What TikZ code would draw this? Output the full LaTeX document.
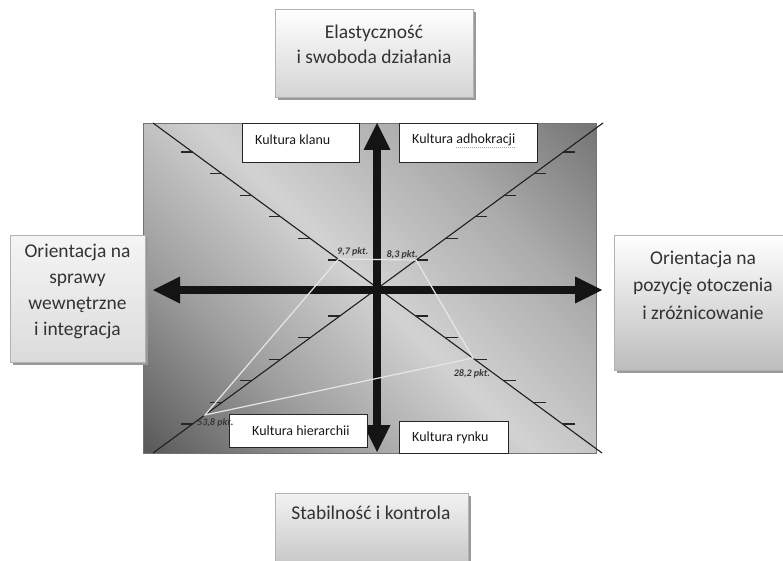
\documentclass[tikz,border=0pt]{standalone}
\usepackage{fontspec}
\setmainfont{Carlito}
\usetikzlibrary{arrows.meta,shadows}
\definecolor{txt}{HTML}{333333}
\definecolor{qlinec}{HTML}{E6E6E6}
\definecolor{sA}{HTML}{5A5A5A}
\definecolor{sB}{HTML}{9C9C9C}
\definecolor{sC}{HTML}{D2D2D2}
\definecolor{sD}{HTML}{ACACAC}
\definecolor{sE}{HTML}{727272}
\pgfdeclareverticalshading{panelshade}{100bp}{color(0bp)=(sA); color(15bp)=(sA); color(32bp)=(sB); color(50bp)=(sC); color(68bp)=(sD); color(86bp)=(sE); color(100bp)=(sE)}
\begin{document}
\begin{tikzpicture}[x=1pt,y=-1pt,
  bigarrow/.style={line width=8.3pt, draw=black!92,
    {Triangle[length=27pt,width=27pt,line width=0pt]}-{Triangle[length=27pt,width=27pt,line width=0pt]}},
  diag/.style={line width=1.1pt, draw=black!88},
  tickmark/.style={line width=1.3pt, draw=black!85},
  quadline/.style={line width=1.2pt, draw=qlinec},
  ptlabel/.style={font=\fontsize{10}{12}\selectfont\bfseries\itshape, text=black!78, inner sep=0pt},
  qbox/.style={draw=black!85, line width=0.9pt, fill=white, anchor=north west, inner sep=0pt},
  qtext/.style={font=\fontsize{14}{16}\selectfont, text=black!90, inner sep=0pt, anchor=west},
  obox/.style={draw=gray!60, line width=0.6pt, anchor=north west, inner sep=0pt,
    drop shadow={shadow xshift=2.5pt, shadow yshift=-2.5pt, fill=black!40, opacity=1}},
  otext/.style={align=center, font=\fontsize{19.5}{25}\selectfont, text=txt, inner sep=0pt}
]
\useasboundingbox[fill=white] (0,0) rectangle (783,561);

% shaded panel
\node[anchor=north west, minimum width=453pt, minimum height=330pt, inner sep=0pt,
  shading=panelshade, shading angle=-45,
  draw=gray!90!black, line width=0.8pt] (panel) at (143,123) {};

% diagonals
\coordinate (C) at (378,288);
\coordinate (dTL) at (153,123);
\coordinate (dBR) at (602,453);
\coordinate (dBL) at (153,453);
\coordinate (dTR) at (603,123);
\draw[diag] (dTL) -- (dBR);
\draw[diag] (dBL) -- (dTR);

% tick marks
\foreach \d in {28,49.6,71.2,92.8,114.4,136}{
  \draw[tickmark] ({378-1.362*\d-12},{288-\d}) -- ({378-1.362*\d},{288-\d});
  \draw[tickmark] ({378+1.362*\d},{288-\d}) -- ({378+1.362*\d+12},{288-\d});
  \draw[tickmark] ({378-1.362*\d-12},{288+\d}) -- ({378-1.362*\d},{288+\d});
  \draw[tickmark] ({378+1.362*\d},{288+\d}) -- ({378+1.362*\d+12},{288+\d});
}

% axes arrows
\coordinate (vt) at (377,123);
\coordinate (vb) at (377,452);
\coordinate (hl) at (153,290);
\coordinate (hr) at (602,290);
\draw[bigarrow] (vb) -- (vt);
\draw[bigarrow] (hl) -- (hr);

% result polygon
\coordinate (P1) at (338.5,259);
\coordinate (P2) at (416,260);
\coordinate (P3) at (473,358);
\coordinate (P4) at (205,415);
\draw[quadline] (P1) -- (P2) -- (P3) -- (P4) -- cycle;

% quadrant boxes
\node[qbox, minimum width=117pt, minimum height=39pt] (klanu) at (242,123) {};
\node[qtext] (tklanu) at (255,140) {Kultura klanu};
\node[qbox, minimum width=138pt, minimum height=39pt] (adhok) at (399,123) {};
\node[qtext] (tadhok) at (412,140) {Kultura adhokracji};
\draw[gray!70, line width=0.8pt, dash pattern=on 1pt off 1pt]
  ([xshift=-59pt,yshift=-1.5pt]tadhok.south east) -- ([yshift=-1.5pt]tadhok.south east);
\node[qbox, minimum width=138pt, minimum height=33pt] (hier) at (229,414) {};
\node[qtext] (thier) at (252,431) {Kultura hierarchii};
\node[qbox, minimum width=109pt, minimum height=32pt] (rynku) at (399,421) {};
\node[qtext] (trynku) at (412,438) {Kultura rynku};

% point labels
\node[ptlabel, anchor=west] (l97) at (337,252) {9,7 pkt.};
\node[ptlabel, anchor=east] (l83) at (418,255) {8,3 pkt.};
\node[ptlabel] (l282) at (472,374) {28,2 pkt.};
\node[ptlabel, anchor=west] (l538) at (197,423) {53,8 pkt.};

% outer boxes
\node[obox, minimum width=198pt, minimum height=88pt, top color=white, bottom color=black!17] (top) at (275,9) {};
\node[otext] (ttop) at (374,44) {Elastyczność\\i swoboda działania};
\node[obox, minimum width=135pt, minimum height=127pt, top color=black!4, bottom color=black!14] (left) at (10,235) {};
\node[otext, font=\fontsize{19.5}{26}\selectfont] (tleft) at (77.5,291) {Orientacja na\\sprawy\\wewnętrzne\\i integracja};
\node[obox, minimum width=178pt, minimum height=135pt, top color=white, bottom color=black!26] (right) at (614,235) {};
\node[otext, font=\fontsize{19.5}{27.5}\selectfont] (tright) at (703,285) {Orientacja na\\pozycję otoczenia\\i zróżnicowanie};
\node[obox, minimum width=193pt, minimum height=72pt, top color=black!5, bottom color=black!22] (bottom) at (275,493) {};
\node[otext] (tbottom) at (371,513) {Stabilność i kontrola};
\end{tikzpicture}
\end{document}
